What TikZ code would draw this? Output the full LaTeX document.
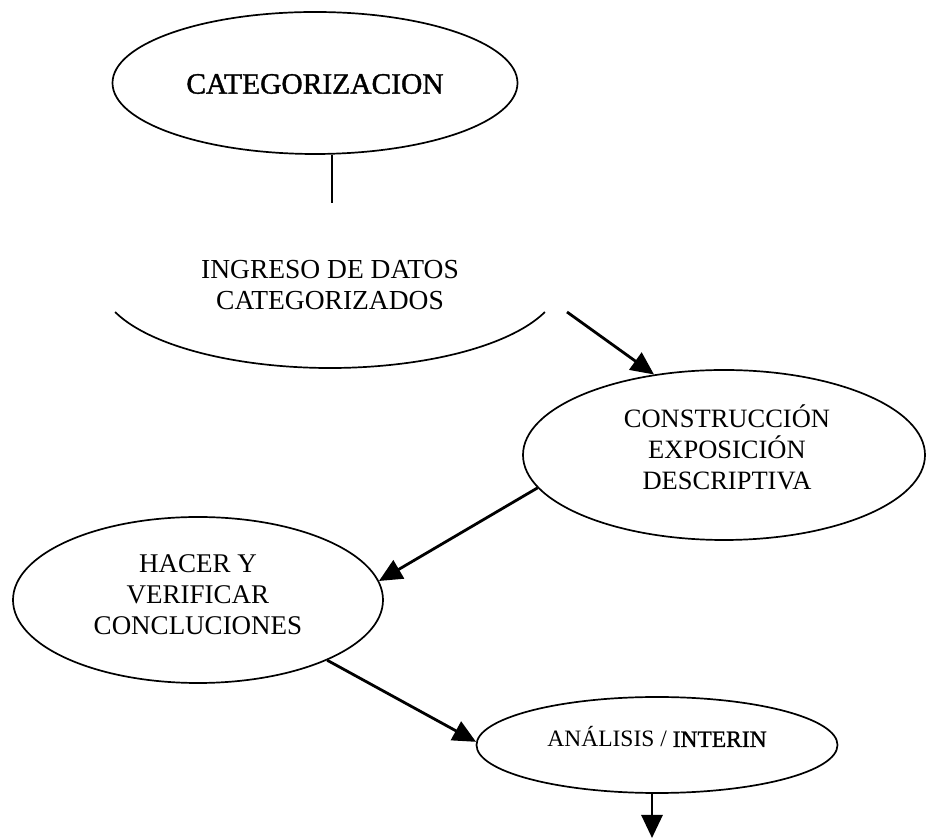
\documentclass[tikz,border=0pt]{standalone}
\usepackage{fontspec}
\setmainfont{Liberation Serif}
\newfontfamily\heavyserif[FakeBold=1.2]{Liberation Serif}
\usetikzlibrary{shapes.geometric,arrows.meta}
\tikzset{
  box/.style={ellipse,draw,line width=1.7pt,inner sep=0pt},
  txt/.style={align=center,inner sep=0pt,font=\fontsize{26.5}{31}\selectfont},
  conn/.style={line width=2.8pt,-{Triangle[length=23pt,width=21pt]}},
  thinline/.style={line width=1.6pt},
  arcline/.style={line width=1.7pt}
}
\begin{document}
\begin{tikzpicture}[x=1pt,y=1pt]
\useasboundingbox (0,0) rectangle (926,840);
% nodes
\node[box,minimum width=405pt,minimum height=142pt,
  label={[txt,yshift=-1pt]center:{\heavyserif\fontsize{29.5}{31}\selectfont CATEGORIZACION}}] (cat) at (315,757) {};
\node[ellipse,inner sep=0pt,minimum width=460pt,minimum height=174pt,
  label={[txt,yshift=-4pt,font=\fontsize{27.5}{31}\selectfont]center:{INGRESO DE DATOS\\CATEGORIZADOS}}] (ing) at (330,559) {};
\node[box,minimum width=402pt,minimum height=170pt,
  label={[txt,yshift=8pt,xshift=3pt]center:{CONSTRUCCIÓN\\EXPOSICIÓN\\DESCRIPTIVA}}] (cons) at (724,385) {};
\node[box,minimum width=370pt,minimum height=166pt,
  label={[txt,yshift=5pt,font=\fontsize{27}{31}\selectfont]center:{HACER Y\\VERIFICAR\\CONCLUCIONES}}] (hac) at (198,240) {};
\node[box,minimum width=361pt,minimum height=96pt,
  label={[txt,yshift=8pt,font=\fontsize{23.5}{28}\selectfont]center:{ANÁLISIS / {\heavyserif INTERIN}}}] (ana) at (657,95) {};
% visible part of the second ellipse
\draw[arcline] ([shift={(200.9:230 and 87)}]ing.center)
  arc[start angle=200.9,end angle=339.1,x radius=230,y radius=87];
% coordinates for free ends
\coordinate (l1) at (332,637);
\coordinate (a1) at (567,528);
\coordinate (a4) at (652,2);
% connectors
\draw[thinline] (cat.south -| l1) -- (l1);
\draw[conn] (a1) -- (cons.131);
\draw[conn] (cons.190) -- (hac.6);
\draw[conn] (hac.-25) -- (ana.179);
\draw[conn] (ana.south -| a4) -- (a4);
\end{tikzpicture}
\end{document}
